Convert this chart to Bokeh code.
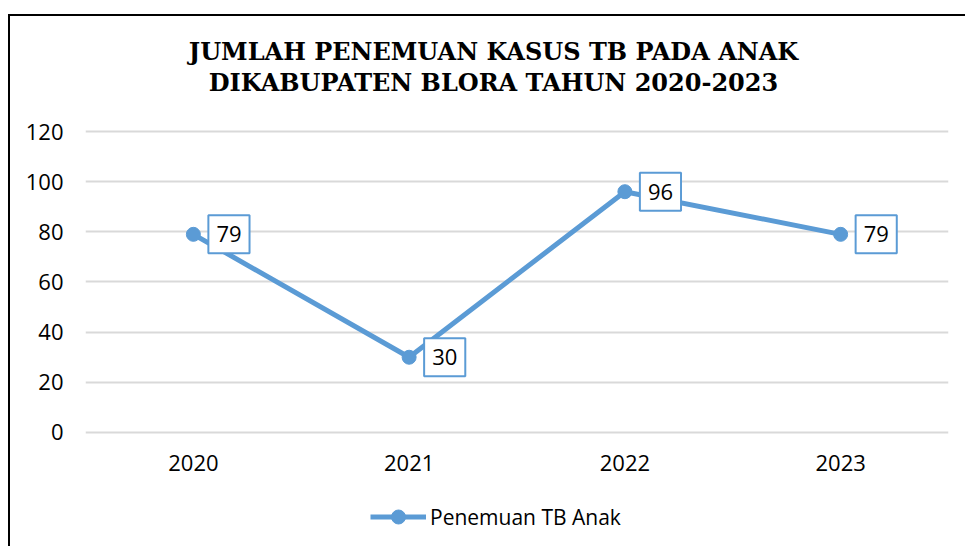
from bokeh.plotting import figure
from bokeh.models import ColumnDataSource, Legend, LegendItem, FixedTicker, Label
from bokeh.embed import file_html
from bokeh.resources import INLINE
from bokeh.core.properties import value

# ---- data ----
years = ["2020", "2021", "2022", "2023"]
cases = [79, 30, 96, 79]
y_ticks = [0, 20, 40, 60, 80, 100, 120]
series_name = "Penemuan TB Anak"
title_line1 = "JUMLAH PENEMUAN KASUS TB PADA ANAK"
title_line2 = "DIKABUPATEN BLORA TAHUN 2020-2023"

BLUE = "#5B9BD5"
GRID = "#D9D9D9"
SANS = "Open Sans"
SERIF = "DejaVu Serif"

src = ColumnDataSource(dict(x=years, y=cases, label=[str(v) for v in cases]))
cat_src = ColumnDataSource(dict(x=years, y=[y_ticks[0]] * len(years)))

# the plot frame spans the full height so the title and legend are not clipped;
# the y range is chosen so 0..120 sits where the reference grid is
p = figure(
    x_range=years, y_range=(-46.25, 165.85),
    width=957, height=532,
    x_axis_location=None,
    output_backend="svg", toolbar_location=None,
    min_border_left=75, min_border_right=19,
    min_border_top=0, min_border_bottom=0,
)
p.title = None
p.styles = {"margin-top": "14px", "margin-left": "8px",
            "border-top": "2px solid black", "border-left": "2px solid black"}
p.outline_line_color = None
p.background_fill_color = "white"
p.border_fill_color = "white"

p.xgrid.grid_line_color = None
p.ygrid.grid_line_color = GRID
p.ygrid.grid_line_width = 2

p.yaxis.ticker = FixedTicker(ticks=y_ticks)
p.yaxis.axis_line_color = None
p.yaxis.major_tick_line_color = None
p.yaxis.major_tick_out = 0
p.yaxis.minor_tick_line_color = None
p.yaxis.major_label_text_font = SANS
p.yaxis.major_label_text_font_size = "22px"
p.yaxis.major_label_text_color = "#000000"
p.yaxis.major_label_standoff = 22

# category labels under the zero line
p.text(x="x", y="y", text="x", source=cat_src, y_offset=31,
       text_align="center", text_baseline="alphabetic",
       text_font=value(SANS), text_font_size="22px", text_color="black")

r_line = p.line("x", "y", source=src, line_width=5, line_color=BLUE)
r_pts = p.scatter("x", "y", source=src, size=14, color=BLUE)

p.text(x="x", y="y", text="label", source=src,
       x_offset=15, text_align="left", text_baseline="middle",
       padding=dict(left=8, right=8, top=11, bottom=11),
       background_fill_color="white",
       border_line_color=BLUE, border_line_width=2,
       text_font=value(SANS), text_font_size="22px", text_color="black")

for txt, yy in ((title_line1, 497), (title_line2, 466)):
    p.add_layout(Label(x=408, y=yy, x_units="screen", y_units="screen",
                       text=txt, text_align="center", text_baseline="alphabetic",
                       text_font=SERIF, text_font_style="bold",
                       text_font_size="24px", text_color="black"))

legend = Legend(items=[LegendItem(label=series_name, renderers=[r_line, r_pts])],
                location=(285, 14), orientation="horizontal",
                glyph_width=56, glyph_height=35, label_height=35,
                label_standoff=4,
                padding=0, margin=0, spacing=0,
                border_line_color=None, background_fill_alpha=0,
                label_text_font=SANS, label_text_font_size="21px",
                label_text_color="black")
p.add_layout(legend)

open("out.html", "w").write(file_html(p, INLINE))
